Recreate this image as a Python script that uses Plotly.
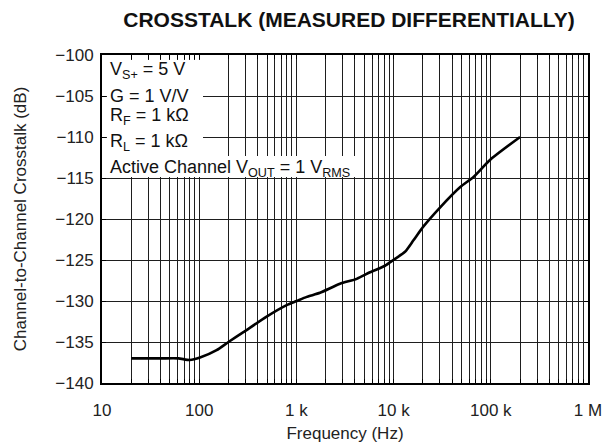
import plotly.graph_objects as go

# Crosstalk curve (frequency in Hz, crosstalk in dB)
freq_hz = [20, 40, 61, 80, 102, 151, 200, 285, 494, 794, 1007, 1276, 1750,
           2810, 4170, 5720, 8160, 9940, 13100, 16000, 20300, 30000, 48500,
           66000, 98000, 200000]
crosstalk_db = [-137.0, -137.0, -137.0, -137.2, -136.9, -136.0, -135.0, -133.8,
                -131.9, -130.5, -130.0, -129.5, -129.0, -127.9, -127.3, -126.5,
                -125.7, -125.0, -124.0, -122.6, -120.9, -118.6, -116.1,
                -114.9, -112.8, -110.0]

# Axis ticks
x_decades = [10, 100, 1000, 10000, 100000, 1000000]
x_decade_labels = ["10", "100", "1 k", "10 k", "100 k", "1 M"]
y_ticks = [-140, -135, -130, -125, -120, -115, -110, -105, -100]
y_tick_labels = ["\u2212140", "\u2212135", "\u2212130", "\u2212125", "\u2212120",
                 "\u2212115", "\u2212110", "\u2212105", "\u2212100"]

# Test-condition notes
notes = [
    "V<sub>S+</sub> = 5 V",
    "G = 1 V/V",
    "R<sub>F</sub> = 1 k\u03a9",
    "R<sub>L</sub> = 1 k\u03a9",
    "Active Channel V<sub>OUT</sub> = 1 V<sub>RMS</sub>",
]

FONT = "Liberation Sans, Arial, sans-serif"

# every 1..9 x decade gets a grid line; only decades get a label
x_tickvals, x_ticktext = [], []
for d, lab in zip(x_decades, x_decade_labels):
    x_tickvals.append(d)
    x_ticktext.append(lab)
    if d < x_decades[-1]:
        for m in range(2, 10):
            x_tickvals.append(d * m)
            x_ticktext.append("")

fig = go.Figure()
fig.add_trace(go.Scatter(
    x=freq_hz, y=crosstalk_db, mode="lines",
    line=dict(color="black", width=2.6, shape="spline", smoothing=0.6),
    showlegend=False, hoverinfo="skip",
))

L, R, T, B = 102, 26, 55, 64
W, H = 614, 447
pw, ph = W - L - R, H - T - B

axis_common = dict(
    showline=True, linecolor="black", linewidth=2, mirror="ticks",
    ticks="inside", ticklen=4, tickcolor="black", tickwidth=1,
    showgrid=True, gridcolor="#1e1e1e", gridwidth=1, zeroline=False,
    automargin=False,
    tickfont=dict(family=FONT, size=17, color="#222"),
)

fig.update_layout(
    width=W, height=H,
    margin=dict(l=L, r=R, t=T, b=B),
    paper_bgcolor="white", plot_bgcolor="white",
    font=dict(family=FONT, color="#222"),
    title=dict(text="<b>CROSSTALK (MEASURED DIFFERENTIALLY)</b>",
               x=349 / W, xanchor="center",
               y=1 - 20 / H, yanchor="middle",
               font=dict(family=FONT, size=21, color="#111")),
    xaxis=dict(type="log", range=[1, 6], tickvals=x_tickvals,
               ticktext=x_ticktext, ticklabelstandoff=11,
               title=dict(text="Frequency (Hz)", standoff=8,
                          font=dict(family=FONT, size=17, color="#222")),
               **axis_common),
    yaxis=dict(range=[-140, -100], tickvals=y_ticks, ticktext=y_tick_labels,
               ticklabelstandoff=3,
               title=dict(text="Channel-to-Channel Crosstalk (dB)", standoff=24,
                          font=dict(family=FONT, size=17, color="#222")),
               **axis_common),
)

# white panels behind the notes (kept clear of the frame and its ticks)
def px_to_paper_x(px):
    return (px - L) / pw

def px_to_paper_y(py):
    return 1 - (py - T) / ph

fig.add_shape(type="rect", xref="paper", yref="paper",
              x0=px_to_paper_x(107), x1=px_to_paper_x(203),
              y0=px_to_paper_y(157), y1=px_to_paper_y(60),
              fillcolor="white", line=dict(width=0), layer="above")
fig.add_shape(type="rect", xref="paper", yref="paper",
              x0=px_to_paper_x(107), x1=px_to_paper_x(363),
              y0=px_to_paper_y(177), y1=px_to_paper_y(156),
              fillcolor="white", line=dict(width=0), layer="above")

note_y = [70, 96, 117, 142, 168]
for txt, yy in zip(notes, note_y):
    fig.add_annotation(text=txt, xref="paper", yref="paper",
                       x=px_to_paper_x(108), y=px_to_paper_y(yy),
                       xanchor="left", yanchor="middle", showarrow=False,
                       font=dict(family=FONT, size=18, color="#111"))

fig.write_html("out.html")
